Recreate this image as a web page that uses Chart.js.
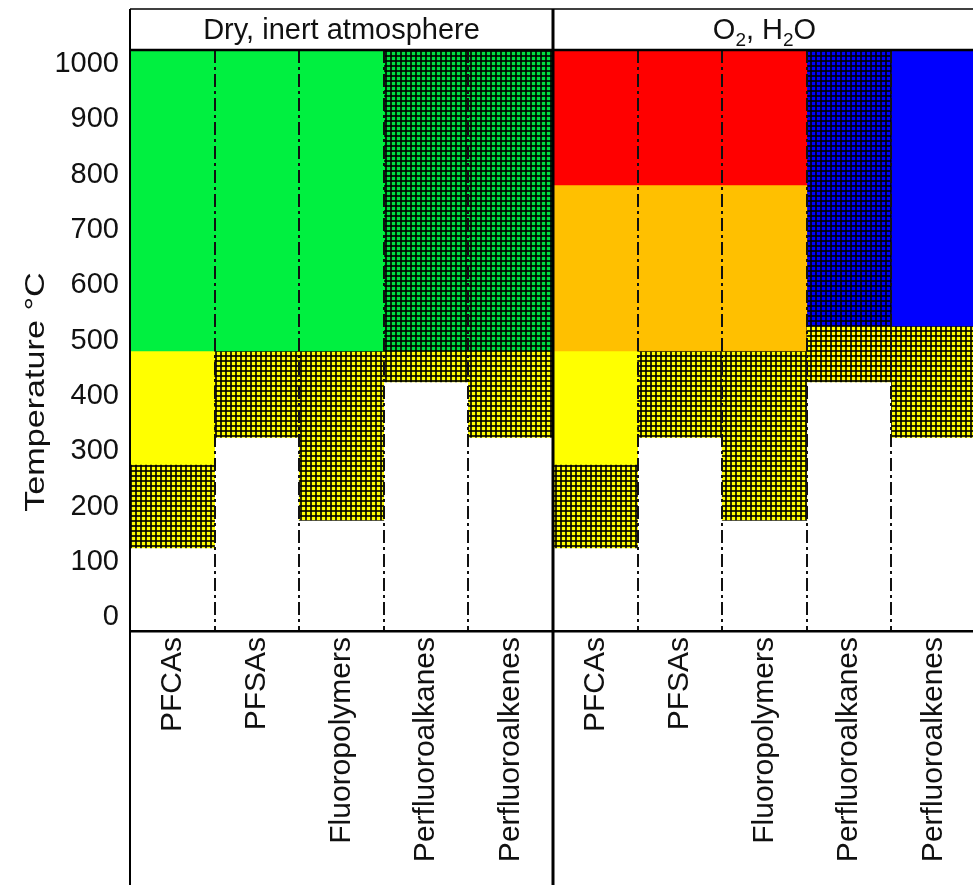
<!DOCTYPE html>
<html>
<head>
<meta charset="utf-8">
<script src="https://cdn.jsdelivr.net/npm/chart.js@4.4.1/dist/chart.umd.min.js"></script>
<style>
  body { margin: 0; overflow: hidden; background: #fff; }
</style>
</head>
<body>
<canvas id="myChart" width="985" height="885"></canvas>
<script>
// kategorier (to paneler med fem stoffgrupper hver)
const categories = ['PFCAs', 'PFSAs', 'Fluoropolymers', 'Perfluoroalkanes', 'Perfluoroalkenes',
                    'PFCAs', 'PFSAs', 'Fluoropolymers', 'Perfluoroalkanes', 'Perfluoroalkenes'];
const panels = ['Dry, inert atmosphere', 'O2, H2O'];
const yTicks = [0, 100, 200, 300, 400, 500, 600, 700, 800, 900, 1000];
const yTitle = 'Temperature °C';

// fra / til temperatur for hvert lag (null = ingen)
const hatchYellowLow  = [125, 325, 175, 425, 325, 125, 325, 175, 425, 325];
const hatchYellowHigh = [275, 480, 480, 480, 480, 275, 480, 480, 525, 525];
const yellowLow  = [275, null, null, null, null, 275, null, null, null, null];
const yellowHigh = [480, null, null, null, null, 480, null, null, null, null];
const greenLow  = [480, 480, 480, null, null, null, null, null, null, null];
const greenHigh = [1025, 1025, 1025, null, null, null, null, null, null, null];
const hatchGreenLow  = [null, null, null, 480, 480, null, null, null, null, null];
const hatchGreenHigh = [null, null, null, 1025, 1025, null, null, null, null, null];
const orangeLow  = [null, null, null, null, null, 480, 480, 480, null, null];
const orangeHigh = [null, null, null, null, null, 780, 780, 780, null, null];
const redLow  = [null, null, null, null, null, 780, 780, 780, null, null];
const redHigh = [null, null, null, null, null, 1025, 1025, 1025, null, null];
const hatchBlueLow  = [null, null, null, null, null, null, null, null, 525, null];
const hatchBlueHigh = [null, null, null, null, null, null, null, null, 1025, null];
const blueLow  = [null, null, null, null, null, null, null, null, null, 525];
const blueHigh = [null, null, null, null, null, null, null, null, null, 1025];

const ctx = document.getElementById('myChart');
const g = ctx.getContext('2d');

function pair(lo, hi) {
  return lo.map((v, i) => v === null ? null : [v, hi[i]]);
}

// rutemønster
function hatch(color) {
  const c = document.createElement('canvas');
  c.width = 5;
  c.height = 5;
  const p = c.getContext('2d');
  p.fillStyle = color;
  p.fillRect(0, 0, 5, 5);
  p.fillStyle = 'rgba(0,0,0,0.82)';
  p.fillRect(0, 0, 5, 2);
  p.fillRect(0, 0, 2, 5);
  return g.createPattern(c, 'repeat');
}

const font = '"Liberation Sans", Arial, sans-serif';

// ramme, overskrifter og aksetittel
const frame = {
  id: 'frame',
  afterDraw(chart) {
    const c = chart.ctx;
    const area = chart.chartArea;
    const x = chart.scales.x;
    const step = x.getPixelForValue(1) - x.getPixelForValue(0);
    const split = x.getPixelForValue(4) + step / 2;
    const top = 9;
    function line(x1, y1, x2, y2) {
      c.beginPath(); c.moveTo(x1, y1); c.lineTo(x2, y2); c.stroke();
    }
    c.save();
    c.strokeStyle = '#000';
    c.lineWidth = 1.5;
    line(area.left, top, chart.width, top);
    c.lineWidth = 2.5;
    line(area.left, area.top, chart.width, area.top);
    c.lineWidth = 2;
    line(area.left, top, area.left, chart.height);
    c.lineWidth = 3;
    line(split, top, split, chart.height);

    c.fillStyle = '#111';
    c.textBaseline = 'alphabetic';
    c.textAlign = 'center';
    c.font = '29px ' + font;
    c.fillText(panels[0], (area.left + split) / 2, 39);

    // tall etter bokstav blir senket skrift
    const parts = panels[1].split(/(\d)/).filter(s => s !== '');
    let w = 0;
    parts.forEach(s => {
      c.font = (/\d/.test(s) ? '19px ' : '29px ') + font;
      w += c.measureText(s).width;
    });
    let px = (split + area.right) / 2 - w / 2;
    c.textAlign = 'left';
    parts.forEach(s => {
      const sub = /\d/.test(s);
      c.font = (sub ? '19px ' : '29px ') + font;
      c.fillText(s, px, sub ? 46 : 39);
      px += c.measureText(s).width;
    });

    c.translate(44, 392);
    c.rotate(-Math.PI / 2);
    c.scale(1.22, 1);
    c.textAlign = 'center';
    c.font = '28px ' + font;
    c.fillText(yTitle, 0, 0);
    c.restore();
  }
};

const myChart = new Chart(ctx, {
  type: 'bar',
  data: {
    labels: categories,
    datasets: [
      { data: pair(hatchYellowLow, hatchYellowHigh), backgroundColor: hatch('#ffff00') },
      { data: pair(yellowLow, yellowHigh), backgroundColor: '#ffff00' },
      { data: pair(greenLow, greenHigh), backgroundColor: '#00f040' },
      { data: pair(hatchGreenLow, hatchGreenHigh), backgroundColor: hatch('#00e040') },
      { data: pair(orangeLow, orangeHigh), backgroundColor: '#ffc000' },
      { data: pair(redLow, redHigh), backgroundColor: '#ff0000' },
      { data: pair(hatchBlueLow, hatchBlueHigh), backgroundColor: hatch('#0000ff') },
      { data: pair(blueLow, blueHigh), backgroundColor: '#0000ff' }
    ]
  },
  options: {
    responsive: false,
    animation: false,
    devicePixelRatio: 1,
    layout: { padding: { top: 50, right: 9, left: 0, bottom: 0 } },
    plugins: { legend: { display: false }, tooltip: { enabled: false } },
    datasets: {
      bar: { grouped: false, barPercentage: 1, categoryPercentage: 1, borderWidth: 0 }
    },
    scales: {
      x: {
        z: 1,
        afterFit(scale) { scale.height = 254; },
        grid: { z: 1, offset: true, drawTicks: false, color: '#111', lineWidth: 2 },
        border: { z: 1, display: true, color: '#000', width: 2.5, dash: [13, 4, 3, 4] },
        ticks: {
          autoSkip: false, minRotation: 90, maxRotation: 90, padding: 6,
          color: '#111', font: { family: font, size: 30 }
        }
      },
      y: {
        min: -25,
        max: 1025,
        afterBuildTicks(scale) { scale.ticks = yTicks.map(v => ({ value: v })); },
        afterFit(scale) { scale.width = 130; },
        grid: { display: false, drawTicks: false },
        border: { display: false },
        ticks: {
          padding: 11, color: '#111', font: { family: font, size: 29 },
          callback: v => String(v)
        }
      }
    }
  },
  plugins: [frame]
});
</script>
</body>
</html>
